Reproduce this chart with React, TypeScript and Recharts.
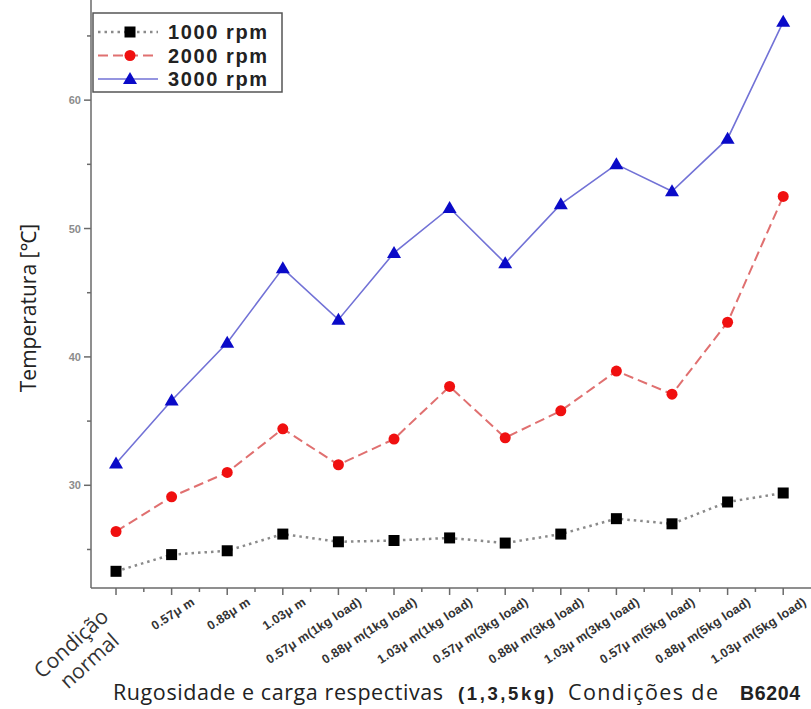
import React from "react";
import { LineChart, Line, XAxis, YAxis } from "recharts";

// x categories (roughness / load conditions)
const categories = [
  "Condição normal",
  "0.57μ m",
  "0.88μ m",
  "1.03μ m",
  "0.57μ m(1kg load)",
  "0.88μ m(1kg load)",
  "1.03μ m(1kg load)",
  "0.57μ m(3kg load)",
  "0.88μ m(3kg load)",
  "1.03μ m(3kg load)",
  "0.57μ m(5kg load)",
  "0.88μ m(5kg load)",
  "1.03μ m(5kg load)",
];

// temperatures in °C
const rpm1000 = [23.3, 24.6, 24.9, 26.2, 25.6, 25.7, 25.9, 25.5, 26.2, 27.4, 27.0, 28.7, 29.4];
const rpm2000 = [26.4, 29.1, 31.0, 34.4, 31.6, 33.6, 37.7, 33.7, 35.8, 38.9, 37.1, 42.7, 52.5];
const rpm3000 = [31.7, 36.6, 41.1, 46.9, 42.9, 48.1, 51.6, 47.3, 51.9, 55.0, 52.9, 57.0, 66.1];

const yTicks = [25, 30, 35, 40, 45, 50, 55, 60, 65];
const xTicks = categories.flatMap((_, i) => (i < categories.length - 1 ? [i, i + 0.5] : [i]));

const data = categories.map((name, i) => ({
  idx: i,
  name,
  r1000: rpm1000[i],
  r2000: rpm2000[i],
  r3000: rpm3000[i],
}));

const AXIS = "#6a6a6a";
const TICKFONT = "'Liberation Sans', Arial, sans-serif";
const TEXTFONT = "'Open Sans', 'Noto Sans', sans-serif";

const Square = (p: any) => {
  if (p.cx == null) return <g key={p.index} />;
  return <rect key={p.index} x={p.cx - 5.5} y={p.cy - 5.5} width={11} height={11} fill="#000" />;
};
const Circle = (p: any) => {
  if (p.cx == null) return <g key={p.index} />;
  return <circle key={p.index} cx={p.cx} cy={p.cy} r={5.5} fill="#f01010" />;
};
const Triangle = (p: any) => {
  if (p.cx == null) return <g key={p.index} />;
  const { cx, cy } = p;
  return (
    <polygon
      key={p.index}
      points={`${cx},${cy - 7} ${cx + 7},${cy + 5} ${cx - 7},${cy + 5}`}
      fill="#0a0ac8"
    />
  );
};

function XTick(props: any) {
  const { x, y, payload } = props;
  const v = payload.value;
  const major = Number.isInteger(v);
  const tick = (
    <line x1={x} x2={x} y1={y} y2={y + (major ? 7 : 4)} stroke={AXIS} strokeWidth={1.5} />
  );
  if (!major) return <g>{tick}</g>;
  if (v === 0) {
    const [a, b] = categories[0].split(" ");
    return (
      <g>
        {tick}
        <text
          transform={`translate(${x - 40},${y + 61}) rotate(-42)`}
          textAnchor="middle"
          fontFamily={TEXTFONT}
          fontSize={21}
          fill="#333"
        >
          <tspan x={0} dy={0}>{a}</tspan>
          <tspan x={2} dy={25}>{b}</tspan>
        </text>
      </g>
    );
  }
  return (
    <g>
      {tick}
      <text
        transform={`translate(${x + 24},${y + 16}) rotate(-33)`}
        textAnchor="end"
        fontFamily={TICKFONT}
        fontWeight="bold"
        fontSize={12.5}
        letterSpacing={0.3}
        fill="#333"
      >
        {categories[v]}
      </text>
    </g>
  );
}

function YTick(props: any) {
  const { x, y, payload } = props;
  const v = payload.value;
  const major = v % 10 === 0;
  return (
    <g>
      <line x1={x} x2={x - (major ? 7 : 4)} y1={y} y2={y} stroke={AXIS} strokeWidth={1.5} />
      {major && (
        <text
          x={x - 10}
          y={y + 4}
          textAnchor="end"
          fontFamily={TICKFONT}
          fontWeight="bold"
          fontSize={11}
          fill="#8c8c8c"
        >
          {v}
        </text>
      )}
    </g>
  );
}

const legendRows = [
  { label: "1000 rpm", stroke: "#8a8a8a", dash: "2.5 4", width: 2.5, Marker: Square },
  { label: "2000 rpm", stroke: "#e07070", dash: "10 5", width: 2, Marker: Circle },
  { label: "3000 rpm", stroke: "#7272d6", dash: undefined, width: 1.6, Marker: Triangle },
];

export default function App() {
  return (
    <div style={{ position: "absolute", left: 0, top: 0, width: 811, height: 709, background: "#fff" }}>
      <LineChart width={811} height={709} data={data} margin={{ top: 0, right: 0, left: 0, bottom: 91 }}>
        <XAxis
          dataKey="idx"
          type="number"
          domain={[-0.45, 12.5]}
          ticks={xTicks}
          interval={0}
          height={30}
          tickSize={0}
          tickMargin={0}
          tickLine={false}
          axisLine={{ stroke: AXIS, strokeWidth: 1.5 }}
          tick={<XTick />}
        />
        <YAxis
          type="number"
          domain={[22, 67.8]}
          ticks={yTicks}
          interval={0}
          width={91}
          tickSize={0}
          tickMargin={0}
          tickLine={false}
          axisLine={{ stroke: AXIS, strokeWidth: 1.5 }}
          tick={<YTick />}
        />
        <Line
          dataKey="r1000"
          stroke="#8a8a8a"
          strokeWidth={2.5}
          strokeDasharray="2.5 4"
          dot={Square}
          isAnimationActive={false}
        />
        <Line
          dataKey="r2000"
          stroke="#e07070"
          strokeWidth={2}
          strokeDasharray="10 5"
          dot={Circle}
          isAnimationActive={false}
        />
        <Line
          dataKey="r3000"
          stroke="#7272d6"
          strokeWidth={1.6}
          dot={Triangle}
          isAnimationActive={false}
        />
      </LineChart>

      <svg
        width={811}
        height={709}
        style={{ position: "absolute", left: 0, top: 0, pointerEvents: "none" }}
      >
        {/* legend */}
        <rect x={93} y={13} width={189} height={79} fill="#fff" stroke="#555" strokeWidth={1.5} />
        {legendRows.map((r, i) => {
          const cy = 32 + i * 23.5;
          return (
            <g key={r.label}>
              <line x1={98} x2={158} y1={cy} y2={cy} stroke={r.stroke} strokeWidth={r.width} strokeDasharray={r.dash} />
              {r.Marker({ cx: 130, cy, index: i })}
              <text
                x={168}
                y={cy + 7}
                fontFamily={TICKFONT}
                fontWeight="bold"
                fontSize={20}
                letterSpacing={1.6}
                fill="#222"
              >
                {r.label}
              </text>
            </g>
          );
        })}

        {/* y axis title */}
        <text
          transform="translate(36,308) rotate(-90)"
          textAnchor="middle"
          fontFamily={TEXTFONT}
          fontSize={21}
          fill="#222"
        >
          Temperatura [℃]
        </text>

        {/* x axis title */}
        <text y={700} fontFamily={TEXTFONT} fontSize={21.5} fill="#222">
          <tspan x={113} textLength={330} lengthAdjust="spacing">
            Rugosidade e carga respectivas
          </tspan>
          <tspan x={458} fontFamily={TICKFONT} fontWeight="bold" fontSize={18.5} textLength={96} lengthAdjust="spacing">
            (1,3,5kg)
          </tspan>
          <tspan x={568} textLength={150} lengthAdjust="spacing">
            Condições de
          </tspan>
          <tspan x={740} fontFamily={TICKFONT} fontWeight="bold" fontSize={19.5} textLength={60} lengthAdjust="spacing">
            B6204
          </tspan>
        </text>
      </svg>
    </div>
  );
}
